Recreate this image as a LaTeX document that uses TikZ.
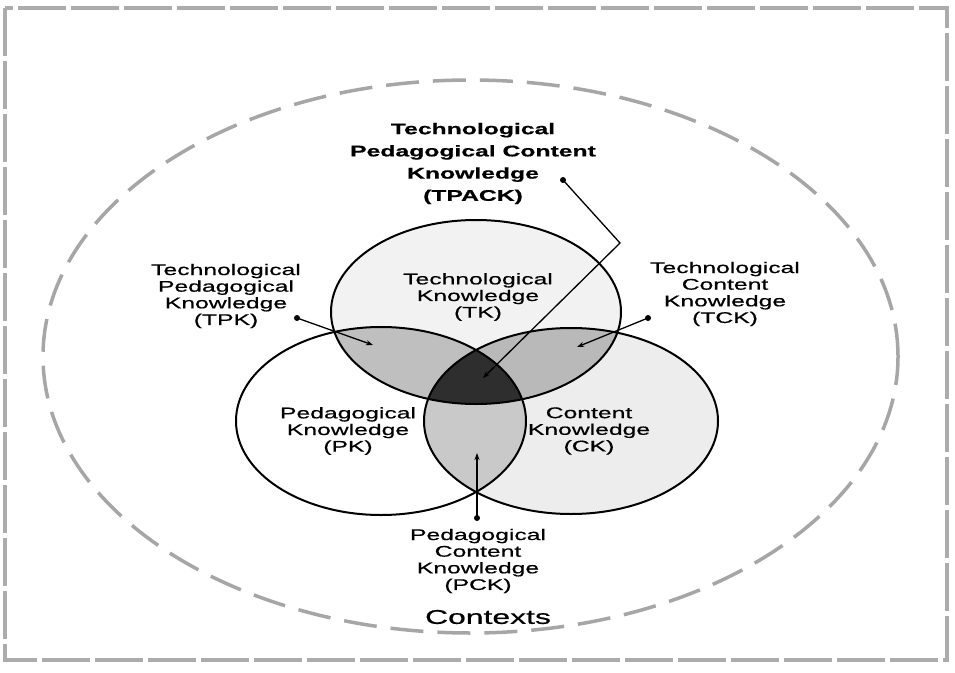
\documentclass[tikz,border=0pt]{standalone}
\usepackage{fontspec}
\setmainfont{Liberation Sans}
\newfontfamily\lbl[FakeStretch=1.6,FakeBold=0.6]{Liberation Sans}
\usetikzlibrary{arrows.meta}
\begin{document}
\begin{tikzpicture}[x=1bp,y=-1bp,
  lab/.style={font=\lbl\fontsize{15.5}{16.7}\selectfont, align=center, inner sep=0pt},
  blab/.style={font=\lbl\bfseries\fontsize{15.5}{22.3}\selectfont, align=center, inner sep=0pt},
  ctx/.style={font=\lbl\fontsize{20}{22}\selectfont, inner sep=0pt},
  ring/.style={draw=black, line width=2bp},
  conn/.style={line width=1.3bp, -{Stealth[length=7bp,width=5bp]}},
  dotmark/.style={circle, fill=black, inner sep=0pt, minimum size=6bp}
]
\def\TKpath{(476,312) ellipse [x radius=145bp, y radius=92bp]}
\def\PKpath{(381,421) ellipse [x radius=145bp, y radius=94bp]}
\def\CKpath{(571,421) ellipse [x radius=147bp, y radius=93bp]}
\useasboundingbox (0,0) rectangle (955,673);
\fill[white] (0,0) rectangle (955,673);
% frame
\draw[gray!65, line width=3.5bp, dash pattern=on 48bp off 5bp] (5,8) rectangle (947,660);
% contexts ellipse
\draw[gray!70, line width=3.5bp, dash pattern=on 33bp off 14bp] (470.5,356.5) ellipse [x radius=427.5bp, y radius=276.5bp];
% fills
\fill[gray!10] \TKpath;
\fill[gray!14] \CKpath;
\fill[white] \PKpath;
\begin{scope}\clip \TKpath; \fill[gray!50] \PKpath; \end{scope}
\begin{scope}\clip \TKpath; \fill[gray!55] \CKpath; \end{scope}
\begin{scope}\clip \PKpath; \fill[gray!42] \CKpath; \end{scope}
\begin{scope}\clip \TKpath; \clip \PKpath; \fill[black!82] \CKpath; \end{scope}
% outlines
\draw[ring] \TKpath;
\draw[ring] \PKpath;
\draw[ring] \CKpath;
% labels
\node[blab] (tpack) at (473,163.5) {Technological\\Pedagogical Content\\Knowledge\\(TPACK)};
\node[lab] (tk) at (478,297) {Technological\\Knowledge\\(TK)};
\node[lab] (pk) at (348,431) {Pedagogical\\Knowledge\\(PK)};
\node[lab] (ck) at (589,431) {Content\\Knowledge\\(CK)};
\node[lab] (tpk) at (226,296) {Technological\\Pedagogical\\Knowledge\\(TPK)};
\node[lab] (tck) at (725,294) {Technological\\Content\\Knowledge\\(TCK)};
\node[lab] (pck) at (478,561) {Pedagogical\\Content\\Knowledge\\(PCK)};
\node[ctx] (contexts) at (488,617) {Contexts};
% connector dots and ends
\node[dotmark] (dtpack) at (563,180) {};
\node[dotmark] (dtpk) at (297,318) {};
\node[dotmark] (dtck) at (648,318) {};
\node[dotmark] (dpck) at (477,518) {};
\coordinate (btpack) at (620,243);
\coordinate (etpack) at (483,378);
\coordinate (etpk) at (373,345);
\coordinate (etck) at (577,347);
\coordinate (epck) at (477,453);
\draw[conn] (dtpack.center) -- (btpack) -- (etpack);
\draw[conn] (dtpk.center) -- (etpk);
\draw[conn] (dtck.center) -- (etck);
\draw[conn] (dpck.center) -- (epck);
\end{tikzpicture}
\end{document}
